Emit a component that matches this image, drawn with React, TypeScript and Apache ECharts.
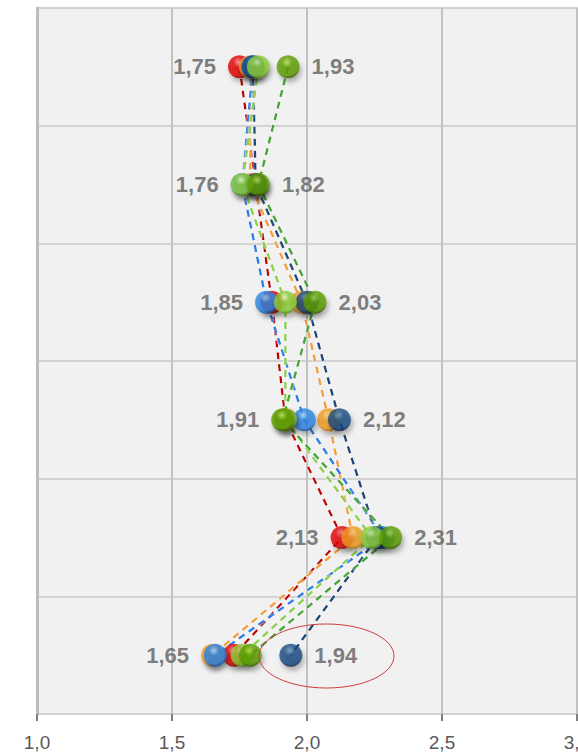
import React, { useEffect, useRef } from "react";
import * as echarts from "echarts";

const categories = ["1", "2", "3", "4", "5", "6"];
const redValues = [1.75, 1.81, 1.87, 1.92, 2.13, 1.73];
const orangeValues = [1.79, 1.79, 1.98, 2.08, 2.17, 1.65];
const blueValues = [1.8, 1.76, 1.85, 1.99, 2.28, 1.66];
const navyValues = [1.8, 1.81, 2.0, 2.12, 2.26, 1.94];
const lightGreenValues = [1.82, 1.76, 1.92, 1.92, 2.24, 1.76];
const darkGreenValues = [1.93, 1.82, 2.03, 1.91, 2.31, 1.79];
const xTicks = [1.0, 1.5, 2.0, 2.5, 3.0];

type S = { name: string; values: number[]; line: string; hi: string; base: string; dark: string };

const seriesDefs: S[] = [
  { name: "red", values: redValues, line: "#c00000", hi: "#ff8c8c", base: "#e00000", dark: "#6a0000" },
  { name: "orange", values: orangeValues, line: "#f2a23c", hi: "#ffd890", base: "#ee9a22", dark: "#8a5008" },
  { name: "blue", values: blueValues, line: "#2b80e6", hi: "#9fd2ff", base: "#2a82e0", dark: "#0c3670" },
  { name: "navy", values: navyValues, line: "#17497a", hi: "#6f9cc8", base: "#164a80", dark: "#031630" },
  { name: "lightGreen", values: lightGreenValues, line: "#8fd14f", hi: "#dcf8a8", base: "#8ccc3a", dark: "#3f6a08" },
  { name: "darkGreen", values: darkGreenValues, line: "#44a832", hi: "#b4e050", base: "#5c9c00", dark: "#223a00" },
];

const fmt2 = (v: number) => v.toFixed(2).replace(".", ",");
const fmt1 = (v: number) => v.toFixed(1).replace(".", ",");

export default function App() {
  const ref = useRef<HTMLDivElement>(null);
  useEffect(() => {
    if (!ref.current) return;
    const chart = echarts.init(ref.current, null, { renderer: "svg" });

    const lineSeries = seriesDefs.map((s) => ({
      type: "line",
      name: s.name + "-line",
      data: s.values.map((v, i) => [v, categories[i]]),
      showSymbol: false,
      z: 2,
      lineStyle: {
        color: s.line,
        width: 2.5,
        type: [7, 5],
        shadowColor: "rgba(255,255,255,0.9)",
        shadowBlur: 2,
      },
      silent: true,
    }));

    const ballSeries = seriesDefs.map((s, k) => ({
      type: "scatter",
      name: s.name,
      data: s.values.map((v, i) => [v, categories[i]]),
      symbol: "circle",
      symbolSize: 23,
      z: 3 + k,
      itemStyle: {
        color: {
          type: "radial",
          x: 0.45,
          y: 0.3,
          r: 0.75,
          colorStops: [
            { offset: 0, color: s.hi },
            { offset: 0.3, color: s.base },
            { offset: 0.75, color: s.base },
            { offset: 1, color: s.dark },
          ],
        },
        shadowColor: "rgba(0,0,0,0.35)",
        shadowBlur: 5,
        shadowOffsetX: 2,
        shadowOffsetY: 4,
      },
    }));

    const labelData: any[] = [];
    categories.forEach((c, i) => {
      const vals = seriesDefs.map((s) => s.values[i]);
      const mn = Math.min(...vals);
      const mx = Math.max(...vals);
      labelData.push({ value: [mn, c], label: { position: "left" } });
      labelData.push({ value: [mx, c], label: { position: "right" } });
    });

    const labelSeries = {
      type: "scatter",
      name: "labels",
      data: labelData,
      symbol: "circle",
      symbolSize: 23,
      z: 20,
      silent: true,
      itemStyle: { color: "rgba(0,0,0,0)" },
      label: {
        show: true,
        distance: 12,
        fontFamily: "Liberation Sans, Arial, sans-serif",
        fontWeight: "bold",
        fontSize: 22,
        color: "#5e5e5e",
        formatter: (p: any) => fmt2(p.value[0]),
      },
    };

    chart.setOption({
      animation: false,
      backgroundColor: "#ffffff",
      grid: {
        left: 37,
        right: 1,
        top: 8,
        bottom: 41,
        containLabel: false,
        outerBoundsMode: "none",
        show: true,
        backgroundColor: "#f1f1f1",
        borderColor: "#d6d6d6",
        borderWidth: 2,
      },
      xAxis: {
        type: "value",
        min: xTicks[0],
        max: xTicks[xTicks.length - 1],
        interval: 0.5,
        axisLine: {
          show: true,
          lineStyle: {
            color: "#7f7f7f",
            width: 3,
            shadowColor: "rgba(0,0,0,0.3)",
            shadowBlur: 4,
            shadowOffsetY: 3,
          },
        },
        axisTick: { show: true, length: 7, lineStyle: { color: "#808080", width: 2 } },
        splitLine: { show: true, lineStyle: { color: "#c2c2c2", width: 2 } },
        axisLabel: {
          margin: 19,
          fontFamily: "Liberation Sans, Arial, sans-serif",
          fontSize: 19,
          color: "#595959",
          formatter: (v: number) => fmt1(v),
        },
      },
      yAxis: {
        type: "category",
        data: categories,
        inverse: true,
        boundaryGap: true,
        axisLabel: { show: false },
        axisTick: { show: false },
        axisLine: { show: true, lineStyle: { color: "#bdbdbd", width: 3 } },
        splitLine: { show: true, lineStyle: { color: "#d2d2d2", width: 2 } },
      },
      graphic: [
        {
          type: "ellipse",
          shape: { cx: 326.5, cy: 656, rx: 67.5, ry: 32 },
          style: { fill: "none", stroke: "#d03a3a", lineWidth: 1 },
          z: 30,
          silent: true,
        },
      ],
      series: [...lineSeries, ...ballSeries, labelSeries],
    });

    return () => chart.dispose();
  }, []);

  return (
    <div
      ref={ref}
      style={{ position: "absolute", left: 0, top: 0, width: 578, height: 755 }}
    />
  );
}
